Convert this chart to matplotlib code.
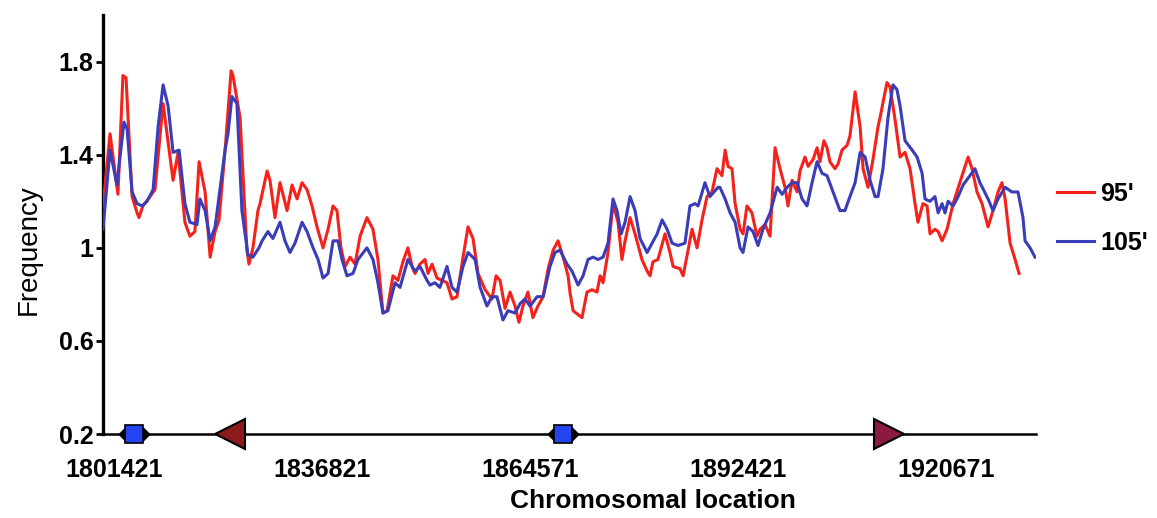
import matplotlib
matplotlib.use("Agg")
import matplotlib.pyplot as plt
from matplotlib.path import Path

# --- data (position in sliding-window units) ---
tick_pos = [0, 100, 200, 300, 400]
tick_labels = ["1801421", "1836821", "1864571", "1892421", "1920671"]
y_ticks = [0.2, 0.6, 1.0, 1.4, 1.8]
y_tick_labels = ["0.2", "0.6", "1", "1.4", "1.8"]

red_pos = [-5.3, -1.9, 1.9, 4.3, 5.8, 8.7, 11.1, 12.0, 13.9, 17.3,
           19.7, 23.6, 28.4, 30.8, 34.1, 36.5, 38.9, 40.9, 43.8, 46.2,
           48.6, 50.5, 53.4, 56.3, 57.2, 60.6, 63.9, 64.9, 66.8, 69.2,
           70.2, 73.6, 75.0, 77.4, 79.8, 83.2, 85.6, 88.0, 90.4, 92.8,
           95.2, 97.6, 100.5, 102.9, 105.3, 107.2, 109.1, 111.1, 113.5, 115.9,
           118.3, 121.6, 124.5, 126.9, 129.3, 131.3, 134.1, 136.5, 138.9, 141.3,
           143.3, 144.7, 147.1, 149.5, 151.0, 152.9, 155.3, 157.7, 160.1, 162.5,
           164.9, 167.8, 170.2, 172.6, 175.0, 178.4, 181.7, 183.7, 185.6, 188.0,
           190.4, 192.8, 194.7, 196.6, 199.0, 201.4, 203.8, 206.3, 208.7, 211.1,
           213.5, 215.9, 218.3, 219.2, 220.7, 225.0, 227.4, 229.8, 232.2, 233.7,
           235.1, 237.5, 239.9, 242.3, 244.2, 245.7, 248.1, 250.5, 253.8, 256.3,
           257.7, 259.1, 261.5, 264.9, 267.3, 268.8, 272.1, 273.6, 276.0, 277.9,
           280.3, 282.7, 285.1, 287.5, 289.9, 292.3, 293.8, 295.2, 297.1, 298.6,
           301.0, 302.4, 304.3, 306.7, 309.1, 310.6, 313.0, 315.4, 317.8, 320.2,
           322.6, 324.0, 326.0, 328.4, 329.8, 332.2, 333.7, 336.1, 338.0, 339.4,
           341.3, 342.8, 344.2, 346.6, 348.1, 350.0, 352.4, 353.8, 356.3, 358.7,
           360.1, 362.5, 364.9, 367.3, 368.3, 371.6, 373.1, 375.5, 377.9, 380.3,
           382.7, 385.1, 386.5, 388.9, 390.9, 392.3, 394.7, 396.2, 398.1, 400.5,
           403.4, 407.7, 410.6, 412.5, 414.9, 417.3, 420.2, 422.6, 425.0, 426.9,
           428.4, 430.8, 433.2, 435.1]
red_freq = [1.18, 1.49, 1.23, 1.74, 1.73, 1.22, 1.15, 1.13, 1.18, 1.22,
            1.25, 1.62, 1.29, 1.41, 1.11, 1.05, 1.07, 1.37, 1.24, 0.96,
            1.07, 1.12, 1.42, 1.76, 1.74, 1.56, 0.99, 0.93, 1.00, 1.16,
            1.19, 1.33, 1.29, 1.13, 1.28, 1.16, 1.27, 1.21, 1.28, 1.25,
            1.18, 1.09, 1.00, 1.08, 1.18, 1.16, 1.00, 0.92, 0.96, 0.93,
            1.05, 1.13, 1.08, 0.95, 0.72, 0.73, 0.88, 0.86, 0.94, 1.00,
            0.92, 0.89, 0.93, 0.95, 0.89, 0.93, 0.87, 0.86, 0.85, 0.78,
            0.79, 0.96, 1.09, 1.04, 0.89, 0.82, 0.78, 0.88, 0.86, 0.74,
            0.81, 0.75, 0.68, 0.75, 0.81, 0.70, 0.75, 0.79, 0.91, 0.99,
            1.03, 0.96, 0.88, 0.81, 0.73, 0.70, 0.81, 0.82, 0.81, 0.88,
            0.85, 0.98, 1.19, 1.11, 0.95, 1.03, 1.13, 1.06, 0.95, 0.90,
            0.88, 0.94, 0.95, 1.06, 0.98, 0.92, 0.91, 0.88, 0.99, 1.08,
            1.00, 1.12, 1.22, 1.24, 1.34, 1.31, 1.42, 1.35, 1.34, 1.19,
            1.08, 1.06, 1.18, 1.15, 1.05, 1.08, 1.10, 1.05, 1.43, 1.34,
            1.26, 1.18, 1.29, 1.24, 1.33, 1.39, 1.35, 1.38, 1.43, 1.37,
            1.46, 1.43, 1.37, 1.34, 1.36, 1.42, 1.44, 1.48, 1.67, 1.52,
            1.34, 1.26, 1.38, 1.52, 1.56, 1.71, 1.69, 1.55, 1.39, 1.41,
            1.34, 1.19, 1.11, 1.19, 1.18, 1.06, 1.08, 1.07, 1.03, 1.08,
            1.19, 1.31, 1.39, 1.34, 1.24, 1.19, 1.09, 1.16, 1.24, 1.28,
            1.21, 1.02, 0.95, 0.89]

blue_pos = [-5.3, -1.9, 1.4, 4.8, 6.3, 8.7, 11.1, 13.5, 15.9, 18.8,
            21.2, 23.6, 26.0, 28.4, 31.3, 34.1, 36.5, 39.9, 41.3, 43.8,
            46.2, 48.6, 50.5, 53.4, 54.8, 56.7, 59.1, 61.5, 64.4, 66.8, 69.7,
            71.2, 74.0, 76.4, 79.8, 82.2, 84.6, 87.0, 90.4, 92.8,
            95.7, 98.1, 100.5, 102.9, 105.3, 107.7, 109.6, 112.0, 114.9, 117.3,
            121.6, 124.5, 126.9, 129.3, 131.7, 135.1, 137.5, 141.3, 144.7,
            147.1, 150.5, 151.9, 154.3, 156.7, 160.1, 162.5, 164.9, 167.8, 170.2, 173.6,
            176.0, 179.3, 181.7, 184.1, 187.0, 189.4, 192.8, 195.2, 197.6, 200.0,
            203.4, 206.3, 209.6, 212.0, 214.4, 217.8,
            220.2, 223.1, 225.5, 227.9, 230.3, 232.7, 235.1, 237.5, 239.9, 241.8,
            243.8, 245.7, 248.1, 250.5,
            252.9, 256.3, 258.7, 261.1, 263.5, 265.9, 268.3, 271.2, 274.5, 276.9,
            279.3, 280.8, 284.1, 286.5, 290.4,
            291.3, 293.8, 296.2, 298.6, 301.0, 302.4, 304.8, 307.2, 309.6, 312.0,
            315.4, 318.8, 321.2, 323.6, 326.0,
            328.4, 330.8, 333.2, 335.6, 338.0, 340.4, 342.8, 345.7, 349.0, 351.4,
            353.8, 356.3, 358.7, 361.1, 363.5, 365.9,
            367.3, 369.7, 372.1, 374.5, 376.4, 377.9, 380.3, 383.7, 386.1, 388.5,
            389.9, 392.3, 394.7, 396.2,
            398.1, 399.5, 401.0, 403.4, 405.8, 408.2, 411.5, 413.9, 416.3, 420.2,
            422.6, 425.0, 428.4, 431.7, 434.6, 437.0, 438.0, 440.4, 442.8]
blue_freq = [1.08, 1.42, 1.27, 1.54, 1.51, 1.24, 1.19, 1.18, 1.20, 1.25,
             1.52, 1.70, 1.61, 1.41, 1.42, 1.19, 1.11, 1.10, 1.21, 1.16,
             1.03, 1.09, 1.22, 1.42, 1.49, 1.65, 1.62, 1.16, 0.97, 0.96, 1.00,
             1.03, 1.07, 1.04, 1.11, 1.03, 0.98, 1.02, 1.11, 1.07,
             1.00, 0.95, 0.87, 0.89, 1.03, 1.03, 0.95, 0.88, 0.89, 0.95,
             1.00, 0.95, 0.85, 0.72, 0.73, 0.85, 0.83, 0.95, 0.90,
             0.92, 0.86, 0.84, 0.85, 0.83, 0.92, 0.83, 0.81, 0.92, 0.98, 0.95,
             0.83, 0.75, 0.79, 0.79, 0.69, 0.73, 0.72, 0.76, 0.78, 0.75,
             0.79, 0.79, 0.92, 0.98, 0.99, 0.93,
             0.90, 0.84, 0.88, 0.95, 0.96, 0.95, 0.96, 1.02, 1.21, 1.16,
             1.06, 1.11, 1.22, 1.16,
             1.04, 0.98, 1.02, 1.06, 1.12, 1.08, 1.02, 1.01, 1.02, 1.18,
             1.19, 1.18, 1.28, 1.22, 1.26,
             1.26, 1.21, 1.15, 1.11, 1.00, 0.98, 1.09, 1.07, 1.01, 1.08,
             1.15, 1.26, 1.23, 1.26, 1.28,
             1.28, 1.21, 1.18, 1.28, 1.37, 1.32, 1.31, 1.24, 1.16, 1.16,
             1.22, 1.28, 1.41, 1.39, 1.29, 1.22,
             1.22, 1.34, 1.56, 1.70, 1.68, 1.61, 1.46, 1.42, 1.39, 1.32,
             1.21, 1.20, 1.22, 1.15,
             1.19, 1.15, 1.20, 1.18, 1.22, 1.27, 1.31, 1.34, 1.28, 1.21,
             1.16, 1.21, 1.26, 1.24, 1.24, 1.13, 1.03, 1.00, 0.96]

# gene features drawn on the x axis
gene_pos = [9.6, 55.8, 215.9, 372.6]
gene_kind = ["box", "left", "box", "right"]

plt.rcParams["font.family"] = ["Liberation Sans", "DejaVu Sans"]

fig = plt.figure(figsize=(11.57, 5.18), dpi=100)
ax = fig.add_axes([0.089, 0.162, 0.8065, 0.809])

ax.plot(red_pos, red_freq, color="#f5221b", lw=2.2, label="95'", zorder=3,
        solid_joinstyle="round")
ax.plot(blue_pos, blue_freq, color="#3b3cb8", lw=2.2, label="105'", zorder=4,
        solid_joinstyle="round")

# gene annotations
hexagon = Path([(-1, 0), (-0.55, 0.45), (0.55, 0.45), (1, 0),
                (0.55, -0.45), (-0.55, -0.45), (-1, 0)])
for p, kind in zip(gene_pos, gene_kind):
    if kind == "box":
        ax.plot(p, 0.2, marker=hexagon, ms=22, color="black", clip_on=False, zorder=5)
        ax.plot(p, 0.2, marker="s", ms=12.5, mfc="#2344f0", mec="black", mew=1.2,
                clip_on=False, zorder=6)
    elif kind == "left":
        ax.plot(p, 0.2, marker="<", ms=22, mfc="#8b1a1a", mec="black", mew=1.5,
                clip_on=False, zorder=6)
    else:
        ax.plot(p, 0.2, marker=">", ms=22, mfc="#8c1a3e", mec="black", mew=1.5,
                clip_on=False, zorder=6)

ax.set_xlim(-5.3, 443.3)
ax.set_ylim(0.2, 2.0)
ax.set_xticks(tick_pos)
ax.set_xticklabels(tick_labels, fontsize=18, fontweight="bold")
ax.set_yticks(y_ticks)
ax.set_yticklabels(y_tick_labels, fontsize=18, fontweight="bold")
ax.tick_params(axis="x", length=0, pad=17)
ax.tick_params(axis="y", length=5, width=2, pad=2, direction="out")

ax.spines[["top", "right"]].set_visible(False)
ax.spines["left"].set_linewidth(2.4)
ax.spines["bottom"].set_linewidth(1.8)

ax.set_xlabel("Chromosomal location", fontsize=19, fontweight="bold")
ax.xaxis.set_label_coords(0.5895, -0.131)
ax.set_ylabel("Frequency", fontsize=20)
ax.yaxis.set_label_coords(-0.066, 0.44)

fig.legend(loc="center left", bbox_to_anchor=(0.914, 0.579), frameon=False,
           prop={"size": 18, "weight": "bold"}, handlelength=1.45,
           handletextpad=0.25, labelspacing=1.0, borderpad=0, borderaxespad=0)

fig.savefig("out.png", dpi=100, facecolor="white")
